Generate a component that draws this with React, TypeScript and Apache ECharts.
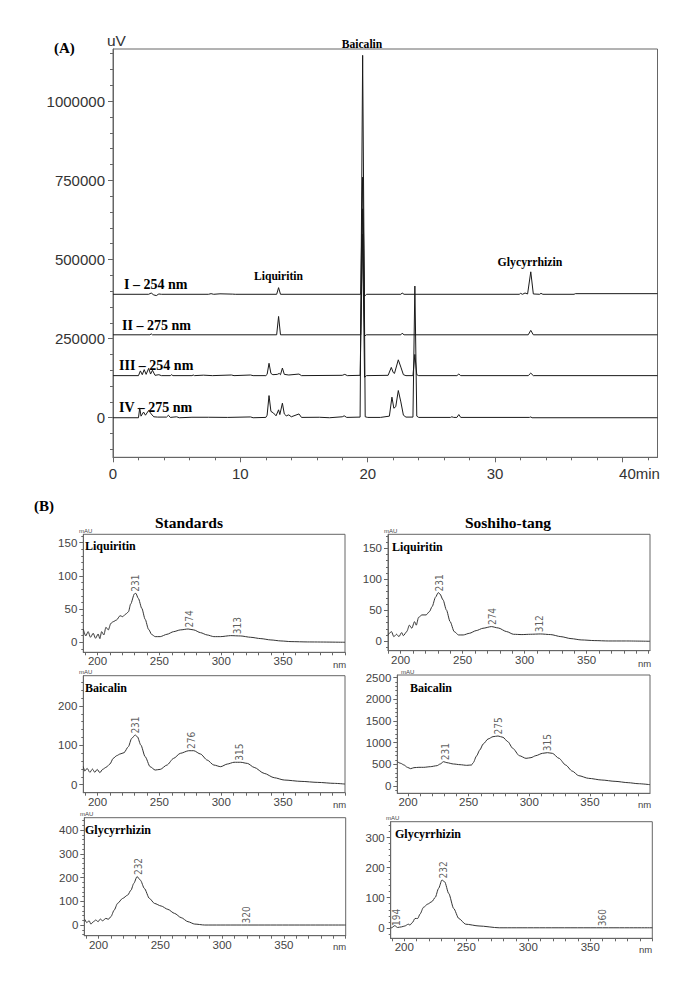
import React, { useEffect, useRef } from 'react';
import * as echarts from 'echarts';

// ---------- (A) chromatograms: [time (min), signal (uV)] ----------
const chromXLabels = [0, 10, 20, 30, 40];
const chromXMinor = [2, 4, 6, 8, 12, 14, 16, 18, 22, 24, 26, 28, 32, 34, 36, 38, 42];
const chromYLabels = [0, 250000, 500000, 750000, 1000000];
const chromYMinor = [-100000, -50000, 50000, 100000, 150000, 200000, 300000, 350000, 400000, 450000,
  550000, 600000, 650000, 700000, 800000, 850000, 900000, 950000, 1050000, 1100000, 1150000];

const traceI = [
  [0, 390000], [2.8, 390000], [3.0, 394000], [3.2, 388000], [3.4, 386000], [3.6, 391000], [3.8, 390000],
  [7.5, 390000], [7.7, 392000], [7.9, 390000], [8.4, 391500], [9.4, 390500], [9.6, 390000],
  [12.85, 390000], [13.0, 411000], [13.15, 390000], [19.45, 390000], [19.6, 760000], [19.75, 384000],
  [19.9, 390000], [22.6, 390000], [22.7, 394000], [22.85, 390000], [31.9, 390000], [32.0, 393000],
  [32.15, 390000], [32.35, 394000], [32.55, 391000], [32.8, 461000], [33.0, 391000], [33.5, 390000],
  [33.6, 393000], [33.75, 390000], [36.2, 390000], [36.3, 392000], [42.75, 392000],
];
const traceII = [
  [0, 262000], [2.9, 262000], [3.0, 265000], [3.1, 262000], [12.85, 262000], [13.0, 320000],
  [13.15, 262000], [19.45, 262000], [19.6, 660000], [19.75, 258000], [19.9, 262000], [22.6, 262000],
  [22.7, 267000], [22.85, 262000], [32.6, 262000], [32.8, 276000], [33.0, 262000], [42.75, 262000],
];
const traceIII = [
  [0, 133000], [2.0, 133000], [2.15, 148000], [2.3, 136000], [2.45, 152000], [2.6, 137000],
  [2.8, 156000], [2.95, 138000], [3.1, 150000], [3.3, 134000], [3.6, 136000], [3.8, 133000],
  [4.5, 133000], [4.6, 136000], [4.7, 133000], [6.2, 133000], [6.3, 135000], [6.4, 133000],
  [7.1, 134500], [7.8, 133000], [9.3, 135000], [9.5, 133000], [10.8, 135000], [11.0, 133000],
  [12.0, 133000], [12.1, 137000], [12.25, 172000], [12.4, 140000], [12.55, 136000], [12.9, 137000],
  [13.05, 140000], [13.15, 136000], [13.3, 157000], [13.45, 137000], [13.8, 135000], [14.6, 138000],
  [14.8, 133000], [18.0, 134000], [18.2, 137000], [18.4, 133000], [19.4, 134000], [19.6, 580000],
  [19.75, 128000], [19.9, 133000], [21.6, 134000], [21.85, 159000], [22.0, 143000], [22.1, 140000],
  [22.4, 183000], [22.6, 160000], [22.8, 136000], [23.0, 133000], [23.55, 133000], [23.7, 200000],
  [23.85, 136000], [24.0, 133000], [27.0, 133000], [27.15, 138000], [27.3, 133000], [32.6, 133000],
  [32.8, 141000], [33.0, 133000], [42.75, 133000],
];
const traceIV = [
  [0, 0], [2.0, 0], [2.1, 31000], [2.2, 5000], [2.4, 18000], [2.55, 8000], [2.8, 23000], [3.0, 12000],
  [3.2, 3000], [3.5, 2000], [4.2, 2000], [4.35, 8000], [4.5, 1000], [5.0, 3000], [5.2, 0], [6.2, 1500],
  [7.5, 1500], [9.0, 1000], [10.8, 2500], [11.0, 0], [12.0, 1000], [12.1, 8000], [12.25, 70000],
  [12.4, 20000], [12.6, 15000], [12.8, 6000], [13.0, 25000], [13.1, 10000], [13.3, 46000],
  [13.45, 12000], [13.6, 6000], [13.8, 9000], [14.0, 3000], [14.6, 12000], [14.8, 1000], [16.2, 1500],
  [17.0, 0], [18.0, 3000], [18.15, 6000], [18.35, 1000], [19.4, 2000], [19.6, 1145000], [19.8, 3000],
  [20.0, 1000], [21.0, 1000], [21.7, 5000], [21.9, 65000], [22.05, 30000], [22.2, 35000],
  [22.4, 86000], [22.6, 50000], [22.8, 8000], [23.0, 2000], [23.55, 2000], [23.7, 416000],
  [23.85, 5000], [24.0, 1000], [26.5, 1000], [26.6, 3000], [26.75, 1000], [27.0, 1000],
  [27.15, 10000], [27.3, 1000], [32.7, 1000], [32.8, 2500], [32.9, 0], [42.75, 0],
];
const traceNames = ['I – 254 nm', 'II – 275 nm', 'III – 254 nm', 'IV – 275 nm'];

// ---------- (B) UV spectra: [wavelength (nm), mAU] ----------
const nmLabels = [200, 250, 300, 350];
const nmTicks = [190, 200, 210, 220, 230, 240, 250, 260, 270, 280, 290, 300, 310, 320, 330, 340, 350, 360, 370, 380, 390, 400];

const specLiqStd = [
  [188.5, 19.6], [190.5, 9.5], [192.4, 16], [194.3, 7.5], [196.5, 13.5], [198.4, 6], [200.5, 12.5],
  [201.9, 5.5], [203.3, 16], [205.1, 11], [206.8, 22.6], [208.7, 18.6], [210.8, 28.6], [212.7, 31],
  [215.4, 33.6], [218.2, 40], [220.3, 38.6], [223, 42.7], [225, 46], [226.8, 57.7], [229.8, 72.8],
  [230.9, 73.8], [233, 66], [235.8, 51], [238.5, 34.6], [241.2, 19.6], [243.9, 11.5], [246.6, 8.5],
  [250.7, 8.5], [256.1, 12], [261.5, 16], [266.9, 18.6], [273.2, 20], [277.8, 18.6], [283.2, 14.5],
  [288.6, 11], [294, 8.5], [299.5, 8.5], [307.6, 10], [315.7, 9.5], [323.8, 7.5], [332, 5.5],
  [340.1, 3.5], [348.2, 2], [356.4, 1], [369.9, 0.5], [400, 0],
];
const specLiqSos = [
  [189.8, 10], [192.6, 15.6], [194.5, 7.5], [196.7, 11.3], [198.6, 7.5], [200.8, 14], [202.2, 9],
  [204.9, 15.6], [207.1, 26], [209, 21], [211.2, 31.7], [212.6, 26], [214.5, 38.7], [217.2, 42.5],
  [220.5, 42.5], [223.2, 47.8], [225.4, 56], [228.1, 71], [230.3, 78.5], [231.7, 76.3], [234.2, 66.7],
  [236.9, 50.5], [239.9, 31.7], [243.2, 15.6], [246.7, 10.2], [250.5, 10.2], [255.5, 12.9],
  [260.9, 17.2], [266.4, 21], [273.2, 23.7], [278.7, 21.5], [285.5, 15.6], [291, 11.3], [297.8, 10.8],
  [304.6, 11.3], [312.8, 11.8], [321, 10.8], [329.2, 7.5], [337.4, 4.3], [345.6, 2.2], [356.6, 1.1],
  [367.5, 0.5], [381.1, 0.5], [401, 0],
];
const specBaiStd = [
  [188.5, 45.8], [189.7, 34.7], [191.6, 41.5], [193.8, 31.4], [195.9, 39.8], [197.8, 31.4], [199.7, 39],
  [201.9, 30.5], [204.1, 39], [206.8, 44], [210, 52.5], [212.7, 67], [215.4, 73.7], [218.2, 78],
  [221.4, 81.4], [224.9, 96.6], [227.6, 117.8], [230.4, 126.3], [232.2, 122], [235, 100.8],
  [238.5, 71.2], [242.5, 45.8], [246.6, 37.3], [250.7, 39], [256.1, 50], [261.5, 67], [266.9, 79.7],
  [273.7, 86.4], [277.8, 86.4], [283.2, 78], [288.6, 62.7], [294, 50], [299.5, 45.8], [304.9, 52.5],
  [310.3, 57], [315.7, 57], [321.1, 54.2], [326.6, 44], [334.7, 28.8], [342.8, 17.8], [350.9, 11.9],
  [364.5, 8.5], [378, 5.9], [391.6, 3.4], [400, 1.7],
];
const specBaiSos = [
  [191.2, 561], [194, 523], [196.7, 485], [199.5, 431], [202.2, 400], [204.9, 423], [209, 431],
  [213, 431], [218.5, 446], [223.9, 469], [226.6, 508], [229.3, 561], [232.1, 538], [237.5, 508],
  [242.9, 492], [248.4, 477], [252.4, 485], [253.8, 538], [256.5, 692], [259.2, 831], [262, 969],
  [266, 1084], [270.1, 1138], [274.2, 1154], [278.3, 1123], [282.3, 1023], [286.4, 869], [291.8, 700],
  [297.3, 638], [301.4, 654], [305.4, 700], [310.9, 754], [315, 769], [319, 754], [324.5, 638],
  [329.9, 485], [335.3, 346], [340.8, 238], [348.9, 177], [359.8, 138], [370.7, 108], [381.5, 77],
  [389.7, 54], [399.5, 31],
];
const specGlyStd = [
  [188.9, 24], [190.5, 10], [192.4, 18], [193.8, 4], [195.9, 14], [197.8, 21], [199.7, 14], [201.4, 25],
  [203.3, 18], [206, 28], [207.9, 24], [210, 35], [212.7, 63], [215.4, 91], [219.5, 112], [223.6, 126],
  [226.3, 147], [228.5, 175], [231.2, 204], [233.9, 189], [237.1, 154], [241.2, 112], [245.3, 91],
  [250.7, 80], [256.1, 66], [261.5, 49], [266.9, 31], [272.4, 14], [277.8, 4], [285.9, 0], [400, 0],
];
const specGlySos = [
  [189.1, 1], [189.7, 0], [192.4, 7], [194.6, 1], [197.8, 3], [200.5, 6], [203.3, 12], [204.6, 9],
  [206.5, 17], [208.7, 31], [210.9, 31], [212.8, 46], [215.5, 68], [219, 79], [222.3, 87], [225, 101],
  [227.7, 131], [230.4, 159], [232.6, 153], [235.9, 114], [239.9, 64], [244, 31], [249.5, 12],
  [260.3, 6], [276.6, 0], [400, 0],
];

const peaksLiqStd = [[231, 74], [274, 20], [313, 10]];
const peaksLiqSos = [[231, 78], [274, 23.7], [312, 12]];
const peaksBaiStd = [[231, 126], [276, 87], [315, 57]];
const peaksBaiSos = [[231, 561], [275, 1154], [315, 769]];
const peaksGlyStd = [[232, 204], [320, 0]];
const peaksGlySos = [[194, 1], [232, 159], [360, 0]];

const yLabLiq = [0, 50, 100, 150];
const yMinLiq = [-10, 10, 20, 30, 40, 60, 70, 80, 90, 110, 120, 130, 140, 160];
const yMinLiqSos = [-10, 10, 20, 30, 40, 60, 70, 80, 90, 110, 120, 130, 140, 160, 170];
const yLabBaiStd = [0, 100, 200];
const yMinBaiStd = [20, 40, 60, 80, 120, 140, 160, 180, 220, 240, 260];
const yLabBaiSos = [0, 500, 1000, 1500, 2000, 2500];
const yMinBaiSos = [-100, 100, 200, 300, 400, 600, 700, 800, 900, 1100, 1200, 1300, 1400, 1600, 1700,
  1800, 1900, 2100, 2200, 2300, 2400];
const yLabGlyStd = [0, 100, 200, 300, 400];
const yMinGlyStd = [-40, -20, 20, 40, 60, 80, 120, 140, 160, 180, 220, 240, 260, 280, 320, 340, 360, 380, 420, 440];
const yLabGlySos = [0, 100, 200, 300];
const yMinGlySos = [-20, 20, 40, 60, 80, 120, 140, 160, 180, 220, 240, 260, 280, 320, 340];

// layout of the six spectrum panels (positions only)
const panels = [
  { title: 'Liquiritin', data: specLiqStd, peaks: peaksLiqStd, yLab: yLabLiq, yMin: yMinLiq,
    grid: { left: 83.3, top: 534.3, width: 261.7, height: 118 }, x: [188.5, 400], y: [-15.1, 162.6],
    tPos: [85, 546], mPos: [79, 531], nPos: [333, 664] },
  { title: 'Liquiritin', data: specLiqSos, peaks: peaksLiqSos, yLab: yLabLiq, yMin: yMinLiqSos,
    grid: { left: 388, top: 534.3, width: 262, height: 116.4 }, x: [189.8, 401.1], y: [-15.2, 172.6],
    tPos: [392, 547], mPos: [384, 531], nPos: [638, 663.5] },
  { title: 'Baicalin', data: specBaiStd, peaks: peaksBaiStd, yLab: yLabBaiStd, yMin: yMinBaiStd,
    grid: { left: 83.3, top: 675.7, width: 261.7, height: 117 }, x: [188.5, 400], y: [-20.3, 277],
    tPos: [85, 688], mPos: [79, 672.3], nPos: [333, 804] },
  { title: 'Baicalin', data: specBaiSos, peaks: peaksBaiSos, yLab: yLabBaiSos, yMin: yMinBaiSos,
    grid: { left: 397.3, top: 675, width: 252.7, height: 118.3 }, x: [191.2, 399.5], y: [-168, 2560],
    tPos: [410, 688], mPos: [401, 671.7], nPos: [638, 804.3] },
  { title: 'Glycyrrhizin', data: specGlyStd, peaks: peaksGlyStd, yLab: yLabGlyStd, yMin: yMinGlyStd,
    grid: { left: 84.3, top: 817.7, width: 261.4, height: 118 }, x: [188.5, 400], y: [-45, 452],
    tPos: [85, 830], mPos: [80, 814.3], nPos: [333, 946.7] },
  { title: 'Glycyrrhizin', data: specGlySos, peaks: peaksGlySos, yLab: yLabGlySos, yMin: yMinGlySos,
    grid: { left: 390.7, top: 821.7, width: 261.6, height: 116.6 }, x: [189.1, 400], y: [-35, 353],
    tPos: [395, 833.5], mPos: [386, 817.5], nPos: [639, 949] },
];

const SANS = "'Liberation Sans', Arial, sans-serif";
const SERIF = "'Liberation Serif', 'Times New Roman', serif";
const NARROW = "'Liberation Sans Narrow', 'Arial Narrow', 'DejaVu Sans Condensed', sans-serif";
const FRAME = '#666';
const INK = '#1a1a1a';
const plain = (v: number) => String(v);

function buildOption() {
  const grids: any[] = [];
  const xAxes: any[] = [];
  const yAxes: any[] = [];
  const series: any[] = [];
  const graphics: any[] = [];

  // ---- chromatogram ----
  grids.push({ left: 113, top: 49, width: 544.5, height: 408.3, show: true, borderColor: FRAME, borderWidth: 1 });
  xAxes.push({
    type: 'value', gridIndex: 0, position: 'bottom', min: 0, max: 42.75,
    axisLine: { onZero: false, lineStyle: { color: FRAME } },
    axisTick: { customValues: chromXLabels, length: 5, lineStyle: { color: FRAME } },
    axisLabel: {
      customValues: chromXLabels, margin: 9, fontSize: 15, fontFamily: SANS, color: '#333',
      formatter: (v: number) => (v === 40 ? '{e|40min}' : String(v)),
      rich: { e: { fontSize: 15, fontFamily: SANS, color: '#333', padding: [0, 0, 0, 34] } },
    },
    splitLine: { show: false },
  });
  xAxes.push({
    type: 'value', gridIndex: 0, position: 'bottom', min: 0, max: 42.75,
    axisLine: { show: false, onZero: false },
    axisTick: { customValues: chromXMinor, length: 3, lineStyle: { color: FRAME } },
    axisLabel: { show: false }, splitLine: { show: false },
  });
  yAxes.push({
    type: 'value', gridIndex: 0, position: 'left', min: -125000, max: 1165000,
    axisLine: { show: true, onZero: false, lineStyle: { color: FRAME } },
    axisTick: { show: true, customValues: chromYLabels, length: 5, lineStyle: { color: FRAME } },
    axisLabel: { customValues: chromYLabels, margin: 8, fontSize: 15, fontFamily: SANS, color: '#333', formatter: plain },
    splitLine: { show: false },
  });
  yAxes.push({
    type: 'value', gridIndex: 0, position: 'left', min: -125000, max: 1165000,
    axisLine: { show: false, onZero: false },
    axisTick: { show: true, customValues: chromYMinor, length: 3, lineStyle: { color: FRAME } },
    axisLabel: { show: false }, splitLine: { show: false },
  });
  const traces = [traceI, traceII, traceIII, traceIV];
  traces.forEach((d, i) => {
    series.push({
      type: 'line', xAxisIndex: 0, yAxisIndex: 0, data: d, showSymbol: false, symbol: 'none',
      lineStyle: { color: INK, width: 1 }, z: 3, name: traceNames[i],
    });
  });
  const boldSerif = (text: string, x: number, y: number, size: number, align = 'left') => ({
    type: 'text', x, y,
    style: { text, fill: '#000', font: `bold ${size}px ${SERIF}`, textAlign: align, textVerticalAlign: 'middle' },
  });
  graphics.push(boldSerif('(A)', 54, 48, 15));
  graphics.push({ type: 'text', x: 107, y: 40, style: { text: 'uV', fill: '#333', font: `15.5px ${SANS}`, textVerticalAlign: 'middle' } });
  graphics.push(boldSerif('Baicalin', 362, 44, 11.6, 'center'));
  graphics.push(boldSerif('Liquiritin', 278.5, 276, 11.6, 'center'));
  graphics.push(boldSerif('Glycyrrhizin', 530, 262, 11.8, 'center'));
  const tracePos = [[124, 284], [122, 325], [119, 365], [119, 407]];
  traceNames.forEach((n, i) => graphics.push(boldSerif(n, tracePos[i][0], tracePos[i][1], 14)));

  // ---- spectra ----
  graphics.push(boldSerif('(B)', 34, 506, 15));
  graphics.push(boldSerif('Standards', 189, 522.3, 15.5, 'center'));
  graphics.push(boldSerif('Soshiho-tang', 508, 522.3, 15.5, 'center'));

  panels.forEach((p, i) => {
    const gi = i + 1;
    const xi = i + 2;
    const yi = 2 + i * 2;
    grids.push({ ...p.grid, show: true, borderColor: FRAME, borderWidth: 1 });
    xAxes.push({
      type: 'value', gridIndex: gi, position: 'bottom', min: p.x[0], max: p.x[1],
      axisLine: { onZero: false, lineStyle: { color: FRAME } },
      axisTick: { customValues: nmTicks, length: 3, lineStyle: { color: FRAME } },
      axisLabel: { customValues: nmLabels, margin: 3, fontSize: 11.5, fontFamily: SANS, color: '#444', formatter: plain },
      splitLine: { show: false },
    });
    yAxes.push({
      type: 'value', gridIndex: gi, position: 'left', min: p.y[0], max: p.y[1],
      axisLine: { show: true, onZero: false, lineStyle: { color: FRAME } },
      axisTick: { show: true, customValues: p.yLab, length: 4, lineStyle: { color: FRAME } },
      axisLabel: { customValues: p.yLab, margin: 6, fontSize: 11.5, fontFamily: SANS, color: '#444', formatter: plain },
      splitLine: { show: false },
    });
    yAxes.push({
      type: 'value', gridIndex: gi, position: 'left', min: p.y[0], max: p.y[1],
      axisLine: { show: false, onZero: false },
      axisTick: { show: true, customValues: p.yMin, length: 2, lineStyle: { color: FRAME } },
      axisLabel: { show: false }, splitLine: { show: false },
    });
    series.push({
      type: 'line', xAxisIndex: xi, yAxisIndex: yi, data: p.data, showSymbol: false, symbol: 'none',
      smooth: 0.25, smoothMonotone: 'x', lineStyle: { color: '#333', width: 1 }, z: 3,
    });
    series.push({
      type: 'scatter', xAxisIndex: xi, yAxisIndex: yi, data: p.peaks, symbolSize: 1,
      itemStyle: { color: 'rgba(0,0,0,0)' }, z: 4,
      label: {
        show: true, position: 'top', distance: 1, rotate: 90, align: 'left', verticalAlign: 'middle',
        formatter: (q: any) => String(q.value[0]), fontSize: 10, fontFamily: NARROW, color: '#333',
      },
    });
    graphics.push(boldSerif(p.title, p.tPos[0], p.tPos[1], 12));
    graphics.push({ type: 'text', x: p.mPos[0], y: p.mPos[1], style: { text: 'mAU', fill: '#444', font: `6px ${SANS}`, textVerticalAlign: 'middle' } });
    graphics.push({ type: 'text', x: p.nPos[0], y: p.nPos[1], style: { text: 'nm', fill: '#444', font: `9.5px ${SANS}`, textVerticalAlign: 'middle' } });
  });

  return {
    animation: false,
    backgroundColor: '#fff',
    grid: grids,
    xAxis: xAxes,
    yAxis: yAxes,
    series,
    graphic: graphics,
  };
}

export default function App() {
  const ref = useRef<HTMLDivElement>(null);
  useEffect(() => {
    if (!ref.current) return;
    const chart = echarts.init(ref.current, undefined, { renderer: 'svg' });
    chart.setOption(buildOption() as any);
    return () => chart.dispose();
  }, []);
  return (
    <div
      ref={ref}
      style={{ position: 'absolute', left: 0, top: 0, width: 685, height: 981, background: '#fff' }}
    />
  );
}
